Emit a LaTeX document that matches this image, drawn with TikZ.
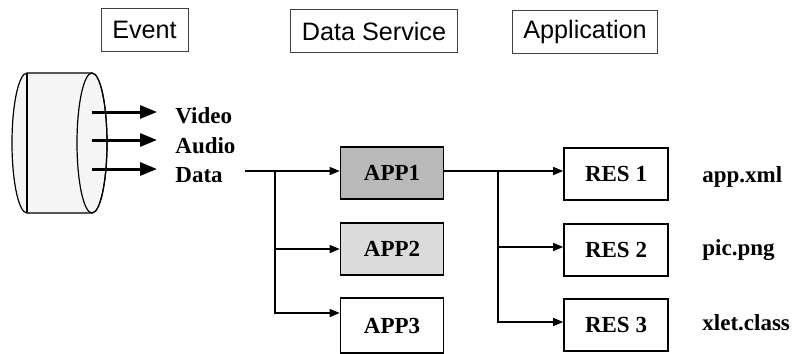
\documentclass[tikz,border=0pt]{standalone}
\usepackage{fontspec}
\setmainfont{Liberation Serif}
\newfontfamily\headfont{Liberation Sans}
\usetikzlibrary{arrows.meta}

\begin{document}
\begin{tikzpicture}[
  x=0.5pt, y=-0.5pt,
  every node/.style={font=\fontsize{11.5}{13}\selectfont\bfseries},
  head/.style={draw=black!75, thin, font=\fontsize{12.6}{14}\selectfont\headfont, inner xsep=5.6pt, minimum height=21.5pt},
  appbox/.style={draw=black, thick, minimum width=51.5pt, minimum height=26pt},
  resbox/.style={draw=black, thick, minimum width=52pt, minimum height=26pt},
  label/.style={inner sep=0pt, anchor=base west},
  feed/.style={line width=1.5pt, -{Triangle[length=8.5pt,width=6.5pt]}, shorten >=9pt},
  link/.style={semithick, -{Triangle[length=5pt,width=4pt]}}
]
\useasboundingbox (0,0) rectangle (795,353);

% column titles
\node[head] (event) at (144.5,29.5) {Event};
\node[head] (service) at (374,31) {Data Service};
\node[head] (appl) at (585,32) {Application};

% the broadcast stream as a cylinder
\filldraw[fill=gray!8, draw=black, semithick] (92,73) -- (27,73)
  arc[start angle=90, end angle=270, x radius=7.5pt, y radius=35pt] -- (92,213)
  arc[start angle=-90, end angle=90, x radius=7.5pt, y radius=35pt] -- cycle;
\draw[semithick] (27,73) -- (27,213);
\draw[semithick] (92,143) ellipse[x radius=7.5pt, y radius=35pt];

\node[label] (video) at (175,123) {Video};
\node[label] (audio) at (175,153) {Audio};
\node[label] (data) at (175,182) {Data};
\coordinate (v0) at (92,112);
\coordinate (a0) at (92,140);
\coordinate (d0) at (92,169);
\draw[feed] (v0) -- (v0 -| video.west);
\draw[feed] (a0) -- (a0 -| audio.west);
\draw[feed] (d0) -- (d0 -| data.west);

% data service
\node[appbox, fill=gray!55] (app1) at (392,173) {APP1};
\node[appbox, fill=gray!28] (app2) at (392,249) {APP2};
\node[appbox, minimum height=27.5pt] (app3) at (392,325.5) {APP3};
\coordinate (dsrc) at (245,171);
\coordinate (split1) at (275,171);
\draw[link] (dsrc) -- (dsrc -| app1.west);
\draw[link] (split1) |- (app2.west);
\draw[link] (split1) |- ([yshift=6.25pt]app3.west);

% application resources
\node[resbox] (res1) at (616,174) {RES 1};
\node[resbox] (res2) at (616,250) {RES 2};
\node[resbox] (res3) at (616,325) {RES 3};
\coordinate (split2) at (498,171);
\draw[link] (app1.east |- split2) -- (split2 -| res1.west);
\draw[link] (split2) |- ([yshift=1.5pt]res2.west);
\draw[link] (split2) |- ([yshift=1.5pt]res3.west);

\node[label] (xml) at (702,182) {app.xml};
\node[label] (png) at (702,255) {pic.png};
\node[label] (cls) at (702,330) {xlet.class};
\end{tikzpicture}
\end{document}
